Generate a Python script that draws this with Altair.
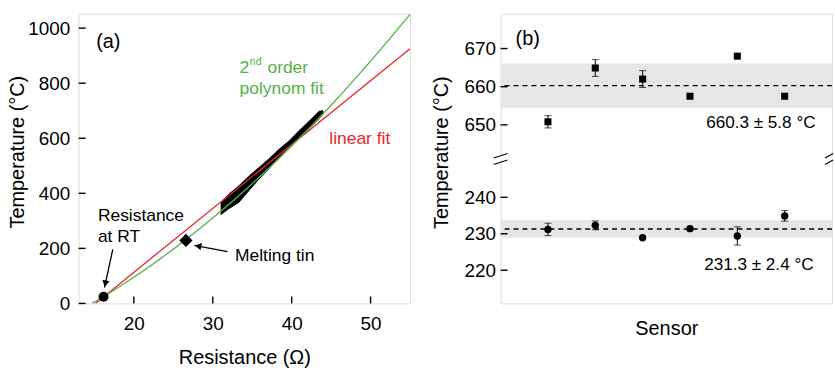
import altair as alt
import pandas as pd

FONT = "Liberation Sans"
GREEN = "#52b247"
RED = "#e8262b"
BAND = "#e6e6e6"

# ---------------- panel (a) data ----------------
poly_R = [14.7, 16.0, 20.0, 25.0, 30.0, 35.0, 40.0, 45.0, 50.0, 55.0]
poly_T = [0, 22, 95, 197, 310, 435, 572, 720, 880, 1050]
lin_R = [15.13, 55.0]
lin_T = [0, 925]
cloud_R = [31.0, 32.06, 33.33, 34.6, 35.86, 37.13, 38.4, 39.66, 40.9, 42.2, 43.45, 44.0]
cloud_lo = [320, 343, 366, 408, 450, 487, 529, 565, 596, 632, 668, 686]
cloud_hi = [368, 399, 429, 465, 496, 527, 562, 592, 628, 664, 699, 703]
rt_R, rt_T = [16.16], [24]
tin_R, tin_T = [26.6], [229]
xa_ticks = [20, 30, 40, 50]
ya_ticks = [0, 200, 400, 600, 800, 1000]

# annotation anchors (data units of panel a)
green_txt_R = [33.4, 33.4]
green_txt_T = [837, 762]
red_txt_R, red_txt_T = [44.77], [578]
blk_txt = ["Resistance", "at RT", "Melting tin"]
blk_txt_R = [15.44, 15.44, 32.82]
blk_txt_T = [301, 224, 154]
arrow_R0 = [17.33, 31.87]
arrow_T0 = [196.6, 188]
arrow_R1 = [16.28, 27.65]
arrow_T1 = [57.8, 211]
head_R = [16.38, 28.14]
head_T = [71.9, 208.2]
head_ang = [192, 281]

# ---------------- panel (b) data ----------------
sensor = [1, 2, 3, 4, 5, 6]
al_T = [650.8, 664.9, 662.0, 657.5, 668.0, 657.5]
al_err = [1.6, 2.2, 2.2, 0.0, 0.0, 0.0]
sn_T = [231.2, 232.3, 228.9, 231.4, 229.4, 234.9]
sn_err = [1.7, 1.2, 0.0, 0.0, 2.5, 1.45]
al_mean, al_sd = 660.3, 5.8
sn_mean, sn_sd = 231.3, 2.4
al_label = ["660.3 ± 5.8 °C"]
sn_label = ["231.3 ± 2.4 °C"]
al_ticks = [650, 660, 670]
sn_ticks = [220, 230, 240]
# right-edge anchors of the labels (sensor-axis units)
al_label_x = [6.653]
sn_label_x = [6.611]
al_label_T = 649.1
sn_label_T = 220.1
break_lo = [641.3, 639.6]
break_hi = [642.5, 640.8]

W_A, W_B, H = 333, 333, 291
TICK = 7


def lin_axis(**kw):
    base = dict(ticks=False, tickSize=0, domain=False, grid=False, format="d",
                labelFontSize=19, labelColor="black", labelFont=FONT,
                titleFontSize=20, titleFont=FONT, titleFontWeight="normal",
                titleColor="black")
    base.update(kw)
    return alt.Axis(**base)


def inner_y_ticks(vals, Y):
    return alt.Chart(pd.DataFrame({"v": vals})).mark_tick(
        orient="horizontal", size=TICK, thickness=1.4, color="black", opacity=1).encode(
        y=Y("v"), x=alt.value(TICK / 2))


# ---------------- panel (a) ----------------
xa = alt.Scale(domain=[13, 55], nice=False, zero=False)
ya = alt.Scale(domain=[0, 1052], nice=False, zero=False)
ax_xa = lin_axis(values=xa_ticks, title="Resistance (Ω)", labelPadding=11,
                 titlePadding=14)
ax_ya = lin_axis(values=ya_ticks, title="Temperature (°C)",
                 labelPadding=9, titlePadding=0, titleY=138.5)


def XA(f):
    return alt.X(f"{f}:Q", scale=xa, axis=ax_xa)


def YA(f):
    return alt.Y(f"{f}:Q", scale=ya, axis=ax_ya)


df_cloud = pd.DataFrame({"R": cloud_R, "lo": cloud_lo, "hi": cloud_hi})
df_poly = pd.DataFrame({"R": poly_R, "T": poly_T})
df_lin = pd.DataFrame({"R": lin_R, "T": lin_T})
df_rt = pd.DataFrame({"R": rt_R, "T": rt_T})
df_tin = pd.DataFrame({"R": tin_R, "T": tin_T})
df_gt = pd.DataFrame({"R": green_txt_R, "T": green_txt_T})
df_rtxt = pd.DataFrame({"R": red_txt_R, "T": red_txt_T, "t": ["linear fit"]})
df_btxt = pd.DataFrame({"R": blk_txt_R, "T": blk_txt_T, "t": blk_txt})
df_arr = pd.DataFrame({"R0": arrow_R0, "T0": arrow_T0, "R1": arrow_R1, "T1": arrow_T1,
                       "Rh": head_R, "Th": head_T, "ang": head_ang})

cloud = alt.Chart(df_cloud).mark_area(color="black", interpolate="linear").encode(
    x=XA("R"), y=YA("lo"), y2="hi")
lin = alt.Chart(df_lin).mark_line(color=RED, strokeWidth=1.3, clip=True).encode(
    x=XA("R"), y=YA("T"))
poly = alt.Chart(df_poly).mark_line(color=GREEN, strokeWidth=1.3, clip=True,
                                     interpolate="monotone").encode(x=XA("R"), y=YA("T"))
rt = alt.Chart(df_rt).mark_point(shape="circle", filled=True, size=100, color="black",
                                 opacity=1).encode(x=XA("R"), y=YA("T"))
tin = alt.Chart(df_tin).mark_point(shape="diamond", filled=True, size=175, color="black",
                                   opacity=1).encode(x=XA("R"), y=YA("T"))
arr = alt.Chart(df_arr).mark_rule(color="black", strokeWidth=1.3).encode(
    x=XA("R0"), y=YA("T0"), x2="R1", y2="T1")
heads = alt.Chart(df_arr).mark_point(shape="triangle-up", filled=True, size=55,
                                     color="black", opacity=1).encode(
    x=XA("Rh"), y=YA("Th"), angle=alt.Angle("ang:Q", scale=None))
xt_a = alt.Chart(pd.DataFrame({"v": xa_ticks})).mark_tick(
    orient="vertical", size=TICK, thickness=1.4, color="black", opacity=1).encode(
    x=XA("v"), y=alt.value(H - TICK / 2))
yt_a = inner_y_ticks(ya_ticks, YA)

gtxt_kw = dict(color=GREEN, font=FONT, align="left", baseline="alphabetic")
g1 = alt.Chart(df_gt.iloc[[0]]).mark_text(text="2", fontSize=17.5, **gtxt_kw).encode(
    x=XA("R"), y=YA("T"))
g2 = alt.Chart(df_gt.iloc[[0]]).mark_text(text="nd", fontSize=11, dx=10, dy=-8,
                                          **gtxt_kw).encode(x=XA("R"), y=YA("T"))
g3 = alt.Chart(df_gt.iloc[[0]]).mark_text(text="order", fontSize=17.5, dx=28,
                                          **gtxt_kw).encode(x=XA("R"), y=YA("T"))
g4 = alt.Chart(df_gt.iloc[[1]]).mark_text(text="polynom fit", fontSize=17.5,
                                          **gtxt_kw).encode(x=XA("R"), y=YA("T"))
rtxt = alt.Chart(df_rtxt).mark_text(color=RED, font=FONT, fontSize=17.5, align="left",
                                    baseline="alphabetic").encode(
    x=XA("R"), y=YA("T"), text="t:N")
btxt = alt.Chart(df_btxt).mark_text(color="black", font=FONT, fontSize=17.5, align="left",
                                    baseline="alphabetic").encode(
    x=XA("R"), y=YA("T"), text="t:N")
lab_a = alt.Chart(df_rt).mark_text(text="(a)", font=FONT, fontSize=20, align="left",
                                   baseline="alphabetic", color="black").encode(
    x=alt.value(17.6), y=alt.value(34.8))

left = alt.layer(cloud, lin, poly, rt, tin, arr, heads, xt_a, yt_a, g1, g2, g3, g4,
                 rtxt, btxt, lab_a).properties(width=W_A, height=H)

# ---------------- panel (b) ----------------
xs = alt.Scale(domain=[0, 7], nice=False, zero=False)
yu = alt.Scale(domain=[603.2, 679.1], nice=False, zero=False)
yl = alt.Scale(domain=[210.9, 290.3], nice=False, zero=False)
ax_s = alt.Axis(title="Sensor", ticks=False, tickSize=0, labels=False, domain=False,
                grid=False, titleFontSize=20, titleFont=FONT, titleFontWeight="normal",
                titleColor="black", titlePadding=15)
ax_u = lin_axis(values=al_ticks, title="Temperature (°C)", labelPadding=5,
                titlePadding=13, orient="left", titleY=139)
ax_l = lin_axis(values=sn_ticks, title="", labelPadding=5, orient="left")


def XS(f):
    return alt.X(f"{f}:Q", scale=xs, axis=ax_s)


def segment(T, err, mean, sd, label, label_x, label_T, ticks, yscale, yaxis, shape,
            size, with_break):
    def YY(f):
        return alt.Y(f"{f}:Q", scale=yscale, axis=yaxis)

    df = pd.DataFrame({"S": sensor, "T": T, "err": err})
    df["lo"] = df["T"] - df["err"]
    df["hi"] = df["T"] + df["err"]
    dfe = df[df["err"] > 0]
    dfc = pd.concat([dfe[["S", "lo"]].rename(columns={"lo": "c"}),
                     dfe[["S", "hi"]].rename(columns={"hi": "c"})])
    dfm = pd.DataFrame({"m": [mean], "lo": [mean - sd], "hi": [mean + sd]})
    dft = pd.DataFrame({"S": label_x, "T": [label_T] * len(label), "t": label})

    band = alt.Chart(dfm).mark_rect(color=BAND).encode(y=YY("lo"), y2="hi")
    dash = alt.Chart(dfm).mark_rule(color="black", strokeWidth=1.3,
                                    strokeDash=[5, 4]).encode(y=YY("m"))
    bars = alt.Chart(dfe).mark_rule(color="black", strokeWidth=1).encode(
        x=XS("S"), y=YY("lo"), y2="hi")
    caps = alt.Chart(dfc).mark_tick(orient="horizontal", size=7, thickness=1,
                                    color="black").encode(x=XS("S"), y=YY("c"))
    pts = alt.Chart(df).mark_point(shape=shape, filled=True, size=size, color="black",
                                   opacity=1).encode(x=XS("S"), y=YY("T"))
    txt = alt.Chart(dft).mark_text(font=FONT, fontSize=17.2, align="right",
                                   baseline="alphabetic", color="black").encode(
        x=XS("S"), y=YY("T"), text="t:N")
    yt = inner_y_ticks(ticks, YY)
    layers = [band, dash, bars, caps, pts, txt, yt]
    if with_break:
        dfb = pd.DataFrame({"lo": break_lo, "hi": break_hi})
        dfg = pd.DataFrame({"lo": [min(break_hi[1], break_lo[0]) + 0.2],
                            "hi": [max(break_hi[1], break_lo[0]) + 0.4]})
        gapl = alt.Chart(dfg).mark_rect(color="white").encode(
            x=alt.value(-2), x2=alt.value(2), y=YY("lo"), y2="hi")
        gapr = alt.Chart(dfg).mark_rect(color="white").encode(
            x=alt.value(W_B - 2), x2=alt.value(W_B + 1), y=YY("lo"), y2="hi")
        bl = alt.Chart(dfb).mark_rule(color="black", strokeWidth=1.2).encode(
            x=alt.value(-7), x2=alt.value(7), y=YY("lo"), y2="hi")
        br = alt.Chart(dfb).mark_rule(color="black", strokeWidth=1.2).encode(
            x=alt.value(W_B - 7), x2=alt.value(W_B + 1), y=YY("lo"), y2="hi")
        layers += [gapl, gapr, bl, br]
    return alt.layer(*layers)


upper = segment(al_T, al_err, al_mean, al_sd, al_label, al_label_x, al_label_T,
                al_ticks, yu, ax_u, "square", 50, True)
lower = segment(sn_T, sn_err, sn_mean, sn_sd, sn_label, sn_label_x, sn_label_T,
                sn_ticks, yl, ax_l, "circle", 55, False)
lab_b = alt.Chart(pd.DataFrame({"t": ["(b)"]})).mark_text(
    font=FONT, fontSize=20, align="left", baseline="alphabetic", color="black").encode(
    x=alt.value(15), y=alt.value(31), text="t:N")

right = alt.layer(upper, lower, lab_b).resolve_scale(y="independent").properties(
    width=W_B, height=H)

chart = alt.hconcat(left, right, spacing=19).properties(
    padding={"left": 7, "top": 12, "right": 0, "bottom": 0}
).configure_view(stroke="black", strokeWidth=1).configure(font=FONT)

chart.save("out.html", embed_options={"renderer": "svg", "actions": False})
